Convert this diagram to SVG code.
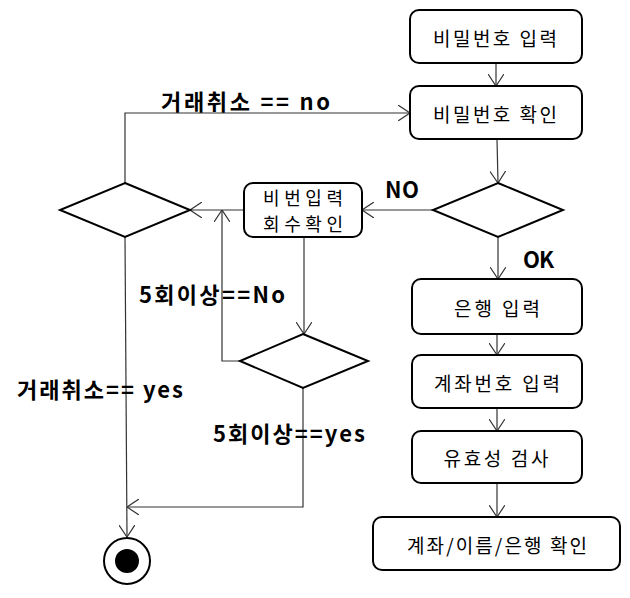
<svg xmlns="http://www.w3.org/2000/svg" width="630" height="598" viewBox="0 0 630 598">
<style>
.box{fill:#fff;stroke:#000;stroke-width:2}
.dia{fill:#fff;stroke:#000;stroke-width:2}
.t{font-family:"Noto Sans CJK KR","Malgun Gothic",sans-serif;font-size:19px;fill:#000;text-anchor:middle;dominant-baseline:central}
.t2{font-family:"Noto Sans CJK KR","Malgun Gothic",sans-serif;font-size:18px;fill:#000;text-anchor:middle;dominant-baseline:central}
.lb{font-family:"Noto Sans CJK KR",sans-serif;font-size:22px;font-weight:bold;fill:#000;dominant-baseline:central}
.c{fill:none;stroke:#333;stroke-width:1.2;marker-end:url(#a)}
</style>
<defs>
<marker id="a" viewBox="0 0 12 16" refX="12" refY="8" markerWidth="12" markerHeight="16" markerUnits="userSpaceOnUse" orient="auto">
<path d="M0,0 L12,8 L0,16" fill="none" stroke="#333" stroke-width="1.2"/>
</marker>
</defs>
<g id="connectors">
<path class="c" d="M496,63 V86"/>
<path class="c" d="M497,139 L498,183"/>
<path class="c" d="M498,237 V279"/>
<path class="c" d="M497,334 V355"/>
<path class="c" d="M497,408 V431"/>
<path class="c" d="M497,483 V517"/>
<path class="c" d="M433,210 H362"/>
<path class="c" d="M244,210 H190"/>
<path class="c" d="M125,183 V113 H410"/>
<path class="c" d="M304,237 V334"/>
<path class="c" d="M240,361 H222 V210"/>
<path class="c" d="M125,237 L127,537"/>
<path class="c" d="M303,388 V507 H127"/>
</g>
<g id="n1"><rect class="box" x="410" y="10" width="172" height="53" rx="9"/><text class="t" x="495" y="37" textLength="124" lengthAdjust="spacing">비밀번호 입력</text></g>
<g id="n2"><rect class="box" x="410" y="86" width="172" height="53" rx="9"/><text class="t" x="495" y="113" textLength="124" lengthAdjust="spacing">비밀번호 확인</text></g>
<g id="d1"><polygon class="dia" points="498,183 563,210 498,237 433,210"/></g>
<g id="n3"><rect class="box" x="244" y="183" width="118" height="54" rx="9"/><text class="t2" x="303" y="197" textLength="80" lengthAdjust="spacing">비번입력</text><text class="t2" x="303" y="223" textLength="80" lengthAdjust="spacing">회수확인</text></g>
<g id="d2"><polygon class="dia" points="125,183 190,210 125,237 60,210"/></g>
<g id="d3"><polygon class="dia" points="303,334 368,361 303,388 240,361"/></g>
<g id="n4"><rect class="box" x="412" y="279" width="170" height="55" rx="9"/><text class="t" x="497" y="307" textLength="86" lengthAdjust="spacing">은행 입력</text></g>
<g id="n5"><rect class="box" x="412" y="355" width="170" height="53" rx="9"/><text class="t" x="497" y="382" textLength="126" lengthAdjust="spacing">계좌번호 입력</text></g>
<g id="n6"><rect class="box" x="412" y="431" width="170" height="52" rx="9"/><text class="t" x="496" y="457" textLength="105" lengthAdjust="spacing">유효성 검사</text></g>
<g id="n7"><rect class="box" x="373" y="517" width="247" height="53" rx="9"/><text class="t" x="497" y="544" textLength="180" lengthAdjust="spacing">계좌/이름/은행 확인</text></g>
<g id="end"><circle cx="127" cy="561" r="23" fill="#fff" stroke="#000" stroke-width="2"/><circle cx="127" cy="561" r="12" fill="#000"/></g>
<g id="labels">
<text class="lb" x="161" y="100" textLength="169" lengthAdjust="spacing">거래취소 == no</text>
<text class="lb" x="385" y="188" textLength="34" lengthAdjust="spacing">NO</text>
<text class="lb" x="523" y="258" textLength="31" lengthAdjust="spacing">OK</text>
<text class="lb" x="139" y="293" textLength="146" lengthAdjust="spacing">5회이상==No</text>
<text class="lb" x="17" y="388" textLength="166" lengthAdjust="spacing">거래취소== yes</text>
<text class="lb" x="213" y="432" textLength="152" lengthAdjust="spacing">5회이상==yes</text>
</g>
</svg>
